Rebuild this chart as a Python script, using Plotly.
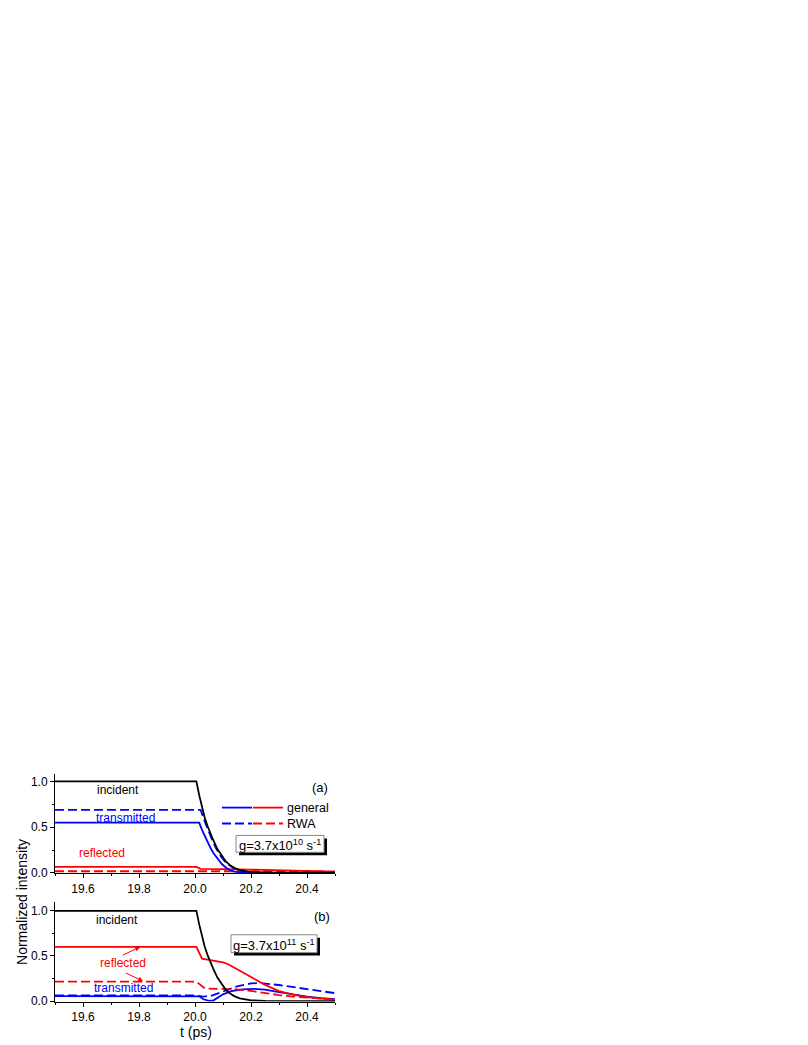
import plotly.graph_objects as go
from plotly.subplots import make_subplots

# ---- data (t in ps, normalized intensity) ----
t_inc = [19.5, 20.0, 20.005, 20.015, 20.025, 20.035, 20.045, 20.055, 20.065, 20.08,
         20.095, 20.11, 20.125, 20.14, 20.16, 20.18, 20.2, 20.25, 20.3, 20.5]
incident = [1.0, 1.0, 1.0, 0.85, 0.72, 0.60, 0.51, 0.43, 0.36, 0.26,
            0.185, 0.125, 0.085, 0.055, 0.03, 0.016, 0.008, 0.002, 0.0, 0.0]

# panel (a): g = 3.7e10
t_a_trans = [19.5, 20.015, 20.025, 20.035, 20.045, 20.055, 20.065, 20.08, 20.095,
             20.11, 20.125, 20.14, 20.16, 20.2, 20.5]
a_trans_gen = [0.55, 0.55, 0.47, 0.40, 0.335, 0.275, 0.22, 0.155, 0.10,
               0.06, 0.032, 0.015, 0.006, 0.003, 0.002]
t_a_trans_rwa = [19.5, 20.02, 20.03, 20.04, 20.05, 20.06, 20.075, 20.09, 20.105,
                 20.12, 20.14, 20.16, 20.18, 20.2, 20.25, 20.5]
a_trans_rwa = [0.69, 0.69, 0.60, 0.52, 0.44, 0.37, 0.27, 0.19, 0.13,
               0.088, 0.05, 0.028, 0.015, 0.008, 0.004, 0.003]
t_a_refl = [19.5, 20.005, 20.02, 20.06, 20.1, 20.2, 20.3, 20.4, 20.5]
a_refl_gen = [0.065, 0.065, 0.045, 0.045, 0.042, 0.036, 0.028, 0.02, 0.014]
t_a_refl_rwa = [19.5, 20.0, 20.1, 20.2, 20.3, 20.4, 20.5]
a_refl_rwa = [0.018, 0.018, 0.02, 0.025, 0.022, 0.018, 0.014]

# panel (b): g = 3.7e11
t_b_refl = [19.5, 20.005, 20.025, 20.05, 20.08, 20.1, 20.12, 20.15, 20.2, 20.25,
            20.3, 20.35, 20.4, 20.45, 20.5]
b_refl_gen = [0.60, 0.60, 0.47, 0.455, 0.445, 0.43, 0.405, 0.355, 0.265, 0.18,
              0.11, 0.07, 0.043, 0.026, 0.013]
t_b_refl_rwa = [19.5, 20.005, 20.035, 20.1, 20.15, 20.2, 20.25, 20.3, 20.35, 20.4,
                20.45, 20.5]
b_refl_rwa = [0.215, 0.215, 0.14, 0.137, 0.13, 0.112, 0.088, 0.066, 0.05, 0.037,
              0.025, 0.015]
t_b_trans = [19.5, 20.015, 20.03, 20.05, 20.065, 20.08, 20.1, 20.13, 20.17, 20.21,
             20.25, 20.3, 20.35, 20.4, 20.45, 20.5]
b_trans_gen = [0.055, 0.052, 0.02, 0.002, 0.006, 0.035, 0.075, 0.11, 0.13, 0.136,
               0.127, 0.1, 0.073, 0.05, 0.033, 0.02]
t_b_trans_rwa = [19.5, 20.0, 20.03, 20.06, 20.1, 20.15, 20.2, 20.23, 20.3, 20.35,
                 20.4, 20.45, 20.5]
b_trans_rwa = [0.062, 0.062, 0.05, 0.06, 0.105, 0.163, 0.195, 0.2, 0.178, 0.158,
               0.135, 0.11, 0.088]

x_ticks = [19.6, 19.8, 20.0, 20.2, 20.4]
y_ticks = [0.0, 0.5, 1.0]

W, H = 808, 1045
OFF_X, OFF_Y = 8, 2  # where the plot div lands inside the page
FONT = "Liberation Sans, Arial, sans-serif"
BLUE, RED, BLACK = "#0000ff", "#ff0000", "#000000"
DASH = "9px,4px"
LW = 1.8


def px(x):
    return (x - OFF_X) / W


def py(y):
    return 1 - (y - OFF_Y) / H


fig = make_subplots(rows=2, cols=1)


def add(row, t, v, color, dash="solid"):
    fig.add_trace(go.Scatter(x=t, y=v, mode="lines", showlegend=False,
                             line=dict(color=color, width=LW, dash=dash)),
                  row=row, col=1)


add(1, t_a_refl_rwa, a_refl_rwa, RED, DASH)
add(1, t_a_refl, a_refl_gen, RED)
add(1, t_a_trans_rwa, a_trans_rwa, BLUE, DASH)
add(1, t_a_trans, a_trans_gen, BLUE)
add(1, t_inc, incident, BLACK)

add(2, t_b_trans_rwa, b_trans_rwa, BLUE, DASH)
add(2, t_b_trans, b_trans_gen, BLUE)
add(2, t_b_refl_rwa, b_refl_rwa, RED, DASH)
add(2, t_b_refl, b_refl_gen, RED)
add(2, t_inc, incident, BLACK)

xaxis_common = dict(range=[19.5, 20.5], tickvals=x_ticks, ticktext=[f"{v:.1f}" for v in x_ticks],
                    showgrid=False, zeroline=False, showline=True, linecolor="black",
                    linewidth=1, ticks="outside", ticklen=4, tickcolor="black",
                    minor=dict(ticks="outside", ticklen=2, dtick=0.1, tick0=19.5, tickcolor="black"),
                    tickfont=dict(size=12, color="black", family=FONT),
                    domain=[px(55), px(335)])
yaxis_common = dict(tickvals=y_ticks, ticktext=[f"{v:.1f}" for v in y_ticks],
                    showgrid=False, zeroline=False, showline=True, linecolor="black",
                    linewidth=1, ticks="outside", ticklen=4, tickcolor="black",
                    minor=dict(ticks="outside", ticklen=2, dtick=0.25, tick0=0, tickcolor="black"),
                    tickfont=dict(size=12, color="black", family=FONT))

fig.update_layout(
    width=W, height=H,
    margin=dict(l=0, r=0, t=0, b=0),
    paper_bgcolor="white", plot_bgcolor="white",
    font=dict(family=FONT, color="black"),
    xaxis=dict(**xaxis_common),
    xaxis2=dict(**xaxis_common),
    yaxis=dict(**yaxis_common, range=[-0.005, 1.08], domain=[py(873.2), py(773.3)]),
    yaxis2=dict(**yaxis_common, range=[-0.005, 1.1], domain=[py(1002.2), py(901.9)]),
)

ann = []


def label(text, x, y, color, xref="x", yref="y", size=12):
    ann.append(dict(text=text, x=x, y=y, xref=xref, yref=yref, showarrow=False,
                    xanchor="center", yanchor="middle",
                    font=dict(size=size, color=color, family=FONT)))


def ptext(text, x, y, size=12, xanchor="center", angle=0):
    ann.append(dict(text=text, x=px(x), y=py(y), xref="paper", yref="paper",
                    xanchor=xanchor, yanchor="middle", textangle=angle, showarrow=False,
                    font=dict(size=size, family=FONT, color="black")))


# panel (a) labels
label("incident", 19.725, 0.91, BLACK)
label("transmitted", 19.75, 0.605, BLUE)
label("reflected", 19.668, 0.214, RED)
label("(a)", 20.448, 0.93, BLACK, size=13)
# panel (b) labels
label("incident", 19.721, 0.90, BLACK, "x2", "y2")
label("reflected", 19.743, 0.427, RED, "x2", "y2")
label("transmitted", 19.746, 0.14, BLUE, "x2", "y2")
label("(b)", 20.454, 0.94, BLACK, "x2", "y2", size=13)

# arrows from "reflected" to the red curves in (b)
for hx, hy, ax, ay in [(19.804, 0.60, -19, 9), (19.815, 0.22, -19, -9)]:
    ann.append(dict(x=hx, y=hy, xref="x2", yref="y2", ax=ax, ay=ay, text="",
                    showarrow=True, arrowhead=2, arrowsize=1, arrowwidth=1,
                    arrowcolor=RED, font=dict(size=12)))

# axis titles
ptext("Normalized intensity", 22, 902, size=14, angle=-90)
ptext("t (ps)", 196, 1033, size=14)

# legend text
ptext("general", 285, 807, size=12.5, xanchor="left")
ptext("RWA", 285, 823, size=12.5, xanchor="left")

shapes = []


def seg(x0, x1, y, color, dash="solid"):
    shapes.append(dict(type="line", xref="paper", yref="paper", x0=px(x0), x1=px(x1),
                       y0=py(y), y1=py(y), line=dict(color=color, width=LW, dash=dash)))


seg(222, 252, 807, BLUE)
seg(253, 283, 807, RED)
seg(222, 252, 823, BLUE, DASH)
seg(253, 283, 823, RED, DASH)


def gbox(x0, x1, y0, y1, exp):
    shapes.append(dict(type="rect", xref="paper", yref="paper", x0=px(x0 + 3), x1=px(x1 + 3),
                       y0=py(y1 + 3), y1=py(y0 + 3), fillcolor="black", line=dict(width=0)))
    shapes.append(dict(type="rect", xref="paper", yref="paper", x0=px(x0), x1=px(x1),
                       y0=py(y1), y1=py(y0), fillcolor="white",
                       line=dict(color="#888888", width=1)))
    ptext(f"g=3.7x10<sup>{exp}</sup> s<sup>-1</sup>", (x0 + x1) / 2, (y0 + y1) / 2 + 1, size=13)


gbox(236, 324, 835, 852, 10)
gbox(231, 317, 935, 953, 11)

fig.update_layout(annotations=ann, shapes=shapes)

fig.write_html("out.html")
